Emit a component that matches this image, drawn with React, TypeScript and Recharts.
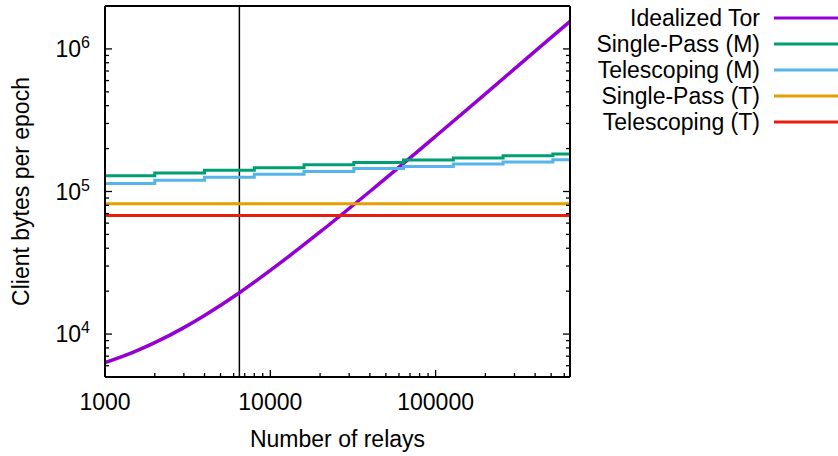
import { Legend, Line, LineChart, ReferenceLine, XAxis, YAxis } from "recharts";

// relay counts where the step curves change, last one is the right edge
const stepRelays = [1000, 2000, 4000, 8000, 16000, 32000, 64000, 128000, 256000, 512000, 650000];
const singlePassM = [129000, 135000, 141000, 147000, 154000, 160000, 166000, 172000, 178000, 183000, 183000];
const telescopingM = [114000, 120000, 126000, 132000, 138000, 145000, 150000, 156000, 161000, 167000, 167000];

const torRelays = [1000, 1500, 2000, 3000, 4000, 6500, 10000, 15000, 20000, 40000, 100000, 200000, 400000, 650000];
const idealizedTor = [6300, 7500, 8700, 11100, 13500, 19500, 28000, 40000, 52000, 100000, 244000, 484000, 964000, 1560000];

const flatRelays = [1000, 650000];
const singlePassT = [82000, 82000];
const telescopingT = [68000, 68000];

const currentTor = 6500;

const xMajor = [1000, 10000, 100000];
const xMinor = [2000, 3000, 4000, 5000, 6000, 7000, 8000, 9000, 20000, 30000, 40000, 50000, 60000, 70000, 80000, 90000, 200000, 300000, 400000, 500000, 600000];
const yMajor = [10000, 100000, 1000000];
const yExp = ["4", "5", "6"];
const yMinor = [5000, 6000, 7000, 8000, 9000, 20000, 30000, 40000, 50000, 60000, 70000, 80000, 90000, 200000, 300000, 400000, 500000, 600000, 700000, 800000, 900000, 2000000];

const toRows = (xs: number[], ys: number[]) => xs.map((n, i) => ({ n, v: ys[i] }));

const series = [
  { name: "Idealized Tor", color: "#9400d3", data: toRows(torRelays, idealizedTor), type: "monotone", w: 3.5 },
  { name: "Single-Pass (M)", color: "#009e73", data: toRows(stepRelays, singlePassM), type: "stepAfter", w: 3 },
  { name: "Telescoping (M)", color: "#56b4e9", data: toRows(stepRelays, telescopingM), type: "stepAfter", w: 3 },
  { name: "Single-Pass (T)", color: "#e69f00", data: toRows(flatRelays, singlePassT), type: "linear", w: 3 },
  { name: "Telescoping (T)", color: "#e51e10", data: toRows(flatRelays, telescopingT), type: "linear", w: 3 },
];

const font = "'Liberation Sans', Arial, sans-serif";
const fs = 23;
const allX = [...xMajor, ...xMinor].sort((a, b) => a - b);
const allY = [...yMajor, ...yMinor].sort((a, b) => a - b);

function BottomTick(p: any) {
  const v = p.payload.value;
  const major = xMajor.includes(v);
  return (
    <g>
      <line x1={p.x} x2={p.x} y1={p.y} y2={p.y - (major ? 7 : 4)} stroke="#000" strokeWidth={1.3} />
      {major && (
        <text x={p.x} y={p.y + 33} textAnchor="middle" fontSize={fs} fontFamily={font} fill="#000">
          {String(v)}
        </text>
      )}
    </g>
  );
}

function TopTick(p: any) {
  const major = xMajor.includes(p.payload.value);
  return <line x1={p.x} x2={p.x} y1={p.y} y2={p.y + (major ? 7 : 4)} stroke="#000" strokeWidth={1.3} />;
}

function LeftTick(p: any) {
  const v = p.payload.value;
  const i = yMajor.indexOf(v);
  return (
    <g>
      <line x1={p.x} x2={p.x + (i >= 0 ? 7 : 4)} y1={p.y} y2={p.y} stroke="#000" strokeWidth={1.3} />
      {i >= 0 && (
        <text x={p.x - 15} y={p.y + 8} textAnchor="end" fontSize={fs} fontFamily={font} fill="#000">
          10
          <tspan dy={-9} fontSize={16}>{yExp[i]}</tspan>
        </text>
      )}
    </g>
  );
}

function RightTick(p: any) {
  const major = yMajor.includes(p.payload.value);
  return <line x1={p.x} x2={p.x - (major ? 7 : 4)} y1={p.y} y2={p.y} stroke="#000" strokeWidth={1.3} />;
}

function YTitle(p: any) {
  const vb = p.viewBox || { y: 6, height: 371 };
  const cy = vb.y + vb.height / 2;
  return (
    <text x={21} y={cy} transform={`rotate(-90 21 ${cy})`} textAnchor="middle" dominantBaseline="central"
      fontSize={fs} fontFamily={font} fill="#000">
      Client bytes per epoch
    </text>
  );
}

function KeyBox() {
  return (
    <svg width={838} height={140} style={{ display: "block" }}>
      {series.map((s, i) => (
        <g key={s.name}>
          <text x={760} y={18 + 26 * i} dy="0.35em" textAnchor="end" fontSize={fs} fontFamily={font} fill="#000">
            {s.name}
          </text>
          <line x1={774} x2={838} y1={18 + 26 * i} y2={18 + 26 * i} stroke={s.color} strokeWidth={3} />
        </g>
      ))}
    </svg>
  );
}

export default function App() {
  const axisLine = { stroke: "#000", strokeWidth: 2 };
  return (
    <div style={{ position: "absolute", left: 0, top: 0, width: 838, height: 456, background: "#fff" }}>
      <LineChart width={838} height={456} margin={{ top: 0, right: 0, bottom: 0, left: 0 }}>
        <XAxis xAxisId="b" dataKey="n" type="number" scale="log" domain={[1000, 650000]} allowDataOverflow
          ticks={allX} interval={0} tick={BottomTick} tickLine={false} tickSize={0} tickMargin={0} height={79} axisLine={axisLine}
          label={{ value: "Number of relays", position: "insideBottom", offset: 9, fontSize: fs, fontFamily: font, fill: "#000" }} />
        <XAxis xAxisId="t" orientation="top" type="number" scale="log" domain={[1000, 650000]} allowDataOverflow
          ticks={allX} interval={0} tick={TopTick} tickLine={false} tickSize={0} tickMargin={0} height={6} axisLine={axisLine} />
        <YAxis yAxisId="l" type="number" scale="log" domain={[5000, 2000000]} allowDataOverflow
          ticks={allY} interval={0} tick={LeftTick} tickLine={false} tickSize={0} tickMargin={0} width={105} axisLine={axisLine}
          label={<YTitle />} />
        <YAxis yAxisId="r" orientation="right" type="number" scale="log" domain={[5000, 2000000]} allowDataOverflow
          ticks={allY} interval={0} tick={RightTick} tickLine={false} tickSize={0} tickMargin={0} width={268} axisLine={axisLine} />
        <ReferenceLine xAxisId="b" yAxisId="l" x={currentTor} stroke="#000" strokeWidth={1.5} />
        {series.map((s) => (
          <Line key={s.name} xAxisId="b" yAxisId="l" data={s.data} dataKey="v" name={s.name} type={s.type as any}
            stroke={s.color} strokeWidth={s.w} dot={false} isAnimationActive={false} />
        ))}
        <Legend layout="vertical" align="center" verticalAlign="middle" content={KeyBox}
          wrapperStyle={{ position: "absolute", left: 0, top: 0, width: 838 }} />
      </LineChart>
    </div>
  );
}
